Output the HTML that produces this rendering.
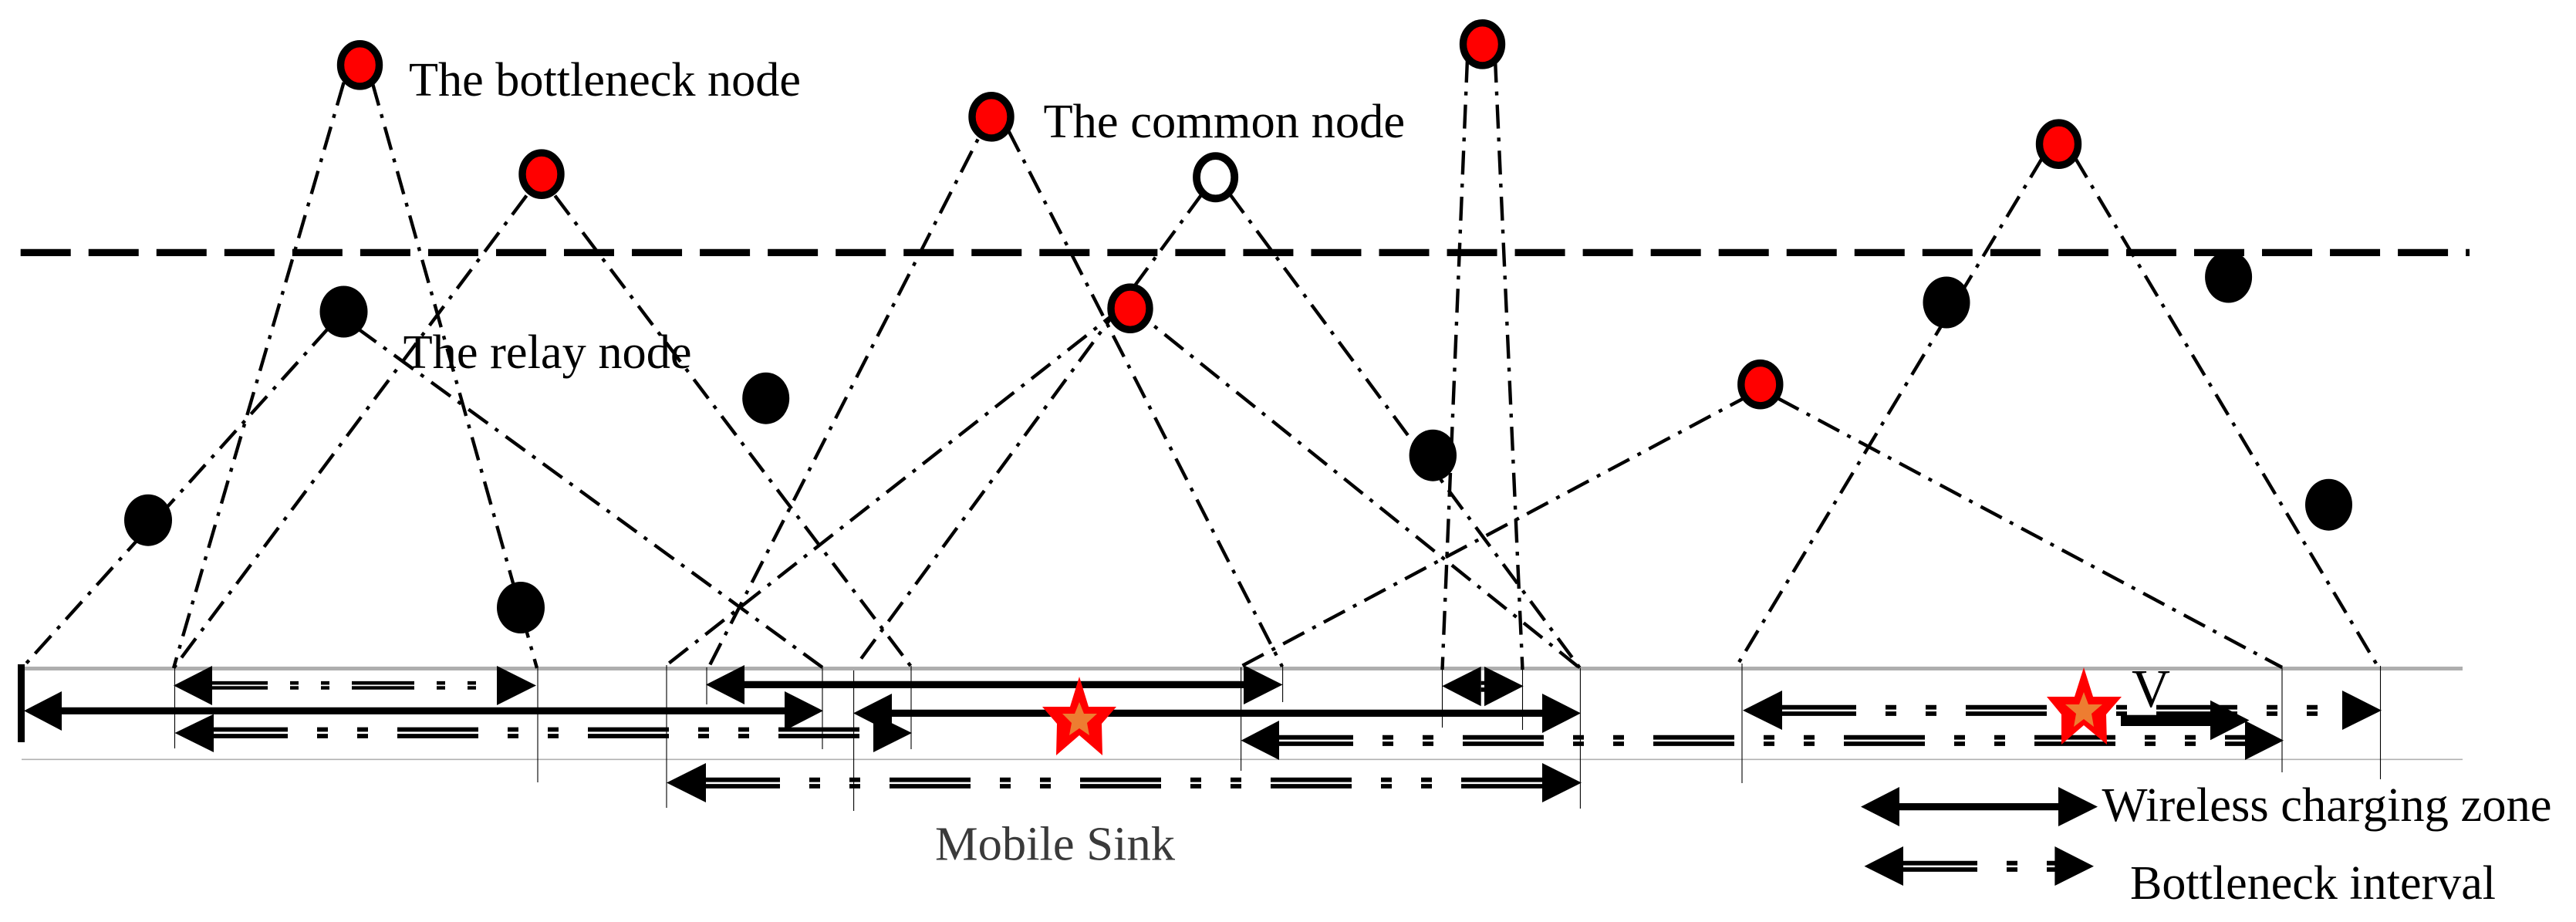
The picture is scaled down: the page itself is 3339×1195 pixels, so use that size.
<!DOCTYPE html>
<html>
<head>
<meta charset="utf-8">
<style>
html,body{margin:0;padding:0;background:#fff}
svg{display:block}
text{font-family:"Liberation Serif",serif;fill:#000}
.dd line{stroke:#000;stroke-width:4.4;stroke-dasharray:31 11.7 5 12}
.v line{stroke:#000;stroke-width:1.1}
.b1 line{stroke:#000;stroke-width:4.6;stroke-dasharray:81 29 11 29 11 29;stroke-dashoffset:9}
.b2 line{stroke:#000;stroke-width:5.8;stroke-dasharray:105 38 14 38 14 38;stroke-dashoffset:9}
.c line{stroke:#000;stroke-width:9.2}
.r{fill:#f00;stroke:#000;stroke-width:9.4}
.k{fill:#000}
</style>
</head>
<body>
<svg width="3339" height="1195" viewBox="0 0 3339 1195" xmlns="http://www.w3.org/2000/svg">
<rect width="3339" height="1195" fill="#fff"/>

<!-- zone rails -->
<line x1="28" y1="866.5" x2="3192" y2="866.5" stroke="#aeaeae" stroke-width="5"/>
<line x1="28" y1="984.3" x2="3192" y2="984.3" stroke="#b0b0b0" stroke-width="1.6"/>
<rect x="23" y="861" width="9" height="101" fill="#000"/>

<!-- horizontal dashed line -->
<line x1="26.7" y1="327.4" x2="3201" y2="327.4" stroke="#000" stroke-width="9.2" stroke-dasharray="65 23.04"/>

<!-- dash-dot links -->
<g class="dd">
<line x1="445.6" y1="106.9" x2="225" y2="866"/>
<line x1="482.6" y1="106.9" x2="696" y2="866"/>
<line x1="682.5" y1="253.5" x2="225" y2="866"/>
<line x1="719.3" y1="253.6" x2="1181" y2="864"/>
<line x1="426" y1="425" x2="32" y2="862"/>
<line x1="462.5" y1="425" x2="1066" y2="865"/>
<line x1="1287" y1="142.4" x2="918" y2="866"/>
<line x1="1307" y1="169" x2="1662" y2="864"/>
<line x1="1455.3" y1="398" x2="864" y2="862"/>
<line x1="1463" y1="396" x2="2048" y2="866"/>
<line x1="1558.3" y1="251" x2="1113" y2="858"/>
<line x1="1593.6" y1="251" x2="2048" y2="866"/>
<line x1="1902" y1="76" x2="1869.5" y2="868"/>
<line x1="1938" y1="76" x2="1973.5" y2="868"/>
<line x1="2270" y1="511" x2="1608" y2="864"/>
<line x1="2304" y1="516" x2="2958" y2="865"/>
<line x1="2648" y1="203.4" x2="2253" y2="860"/>
<line x1="2689" y1="203.4" x2="3080" y2="860"/>
</g>

<!-- thin verticals -->
<g class="v">
<line x1="226.5" y1="863" x2="226.5" y2="970"/>
<line x1="697" y1="866" x2="697" y2="1014"/>
<line x1="864" y1="862" x2="864" y2="1047"/>
<line x1="916" y1="865" x2="916" y2="913"/>
<line x1="1066" y1="865" x2="1066" y2="971"/>
<line x1="1106.6" y1="869" x2="1106.6" y2="1051"/>
<line x1="1181" y1="863" x2="1181" y2="971"/>
<line x1="1608.6" y1="865" x2="1608.6" y2="999"/>
<line x1="1662.6" y1="863" x2="1662.6" y2="910"/>
<line x1="1869.5" y1="866" x2="1869.5" y2="943"/>
<line x1="1973.5" y1="866" x2="1973.5" y2="946"/>
<line x1="2048.4" y1="866" x2="2048.4" y2="1048"/>
<line x1="2258" y1="860" x2="2258" y2="1015"/>
<line x1="2958" y1="865" x2="2958" y2="1001"/>
<line x1="3085.5" y1="863" x2="3085.5" y2="1010"/>
</g>

<!-- nodes -->
<g>
<ellipse class="r" cx="466.5" cy="84.3" rx="25" ry="27.6"/>
<ellipse class="r" cx="702" cy="225.7" rx="25" ry="27.6"/>
<ellipse class="r" cx="1285" cy="151.3" rx="25" ry="27.6"/>
<ellipse class="r" cx="1465" cy="399.7" rx="25" ry="27.6"/>
<ellipse class="r" cx="1921.5" cy="57.3" rx="25" ry="27.6"/>
<ellipse class="r" cx="2668.5" cy="186.7" rx="25" ry="27.6"/>
<ellipse class="r" cx="2281.8" cy="498.2" rx="25" ry="27.6"/>
<ellipse cx="1575.6" cy="229.7" rx="24.6" ry="27.6" fill="#fff" stroke="#000" stroke-width="9.8"/>
<ellipse class="k" cx="445.5" cy="404" rx="31" ry="33.5"/>
<ellipse class="k" cx="992.7" cy="516.2" rx="30.5" ry="33.5"/>
<ellipse class="k" cx="192" cy="674.2" rx="31" ry="33.5"/>
<ellipse class="k" cx="675" cy="787.5" rx="31" ry="33.5"/>
<ellipse class="k" cx="1857.3" cy="590.2" rx="30.7" ry="33.5"/>
<ellipse class="k" cx="2523" cy="392" rx="30.5" ry="33.5"/>
<ellipse class="k" cx="2888.6" cy="359" rx="30.5" ry="33.5"/>
<ellipse class="k" cx="3018.5" cy="654.2" rx="30.5" ry="33.5"/>
</g>

<!-- bottleneck intervals -->
<g class="b1">
<line x1="275" y1="885.2" x2="644" y2="885.2"/>
<line x1="275" y1="891.5" x2="644" y2="891.5"/>
</g>
<polygon class="k" points="225,888.5 275,863 275,914"/>
<polygon class="k" points="695,888.5 644,863 644,914"/>

<g class="b2">
<line x1="277" y1="945.5" x2="1132" y2="945.5"/>
<line x1="277" y1="954" x2="1132" y2="954"/>
</g>
<polygon class="k" points="226.5,950 277,925.5 277,975"/>
<polygon class="k" points="1182,950 1132,925.5 1132,975"/>

<g class="b2">
<line x1="915" y1="1010.7" x2="1999" y2="1010.7"/>
<line x1="915" y1="1019" x2="1999" y2="1019"/>
</g>
<polygon class="k" points="864,1014.5 915,989 915,1040"/>
<polygon class="k" points="2050,1014.5 1999,989 1999,1040"/>

<polygon class="k" points="1869.3,889.3 1919.7,864 1919.7,915.3"/>
<polygon class="k" points="1974.7,889.3 1924,864 1924,915.3"/>
<rect class="k" x="1919.7" y="882.7" width="4.3" height="5"/>
<rect class="k" x="1919.7" y="891" width="4.3" height="5.7"/>

<g class="b2">
<line x1="1658" y1="955.7" x2="2910" y2="955.7"/>
<line x1="1658" y1="964" x2="2910" y2="964"/>
</g>
<polygon class="k" points="1608.6,959.7 1658,934 1658,985"/>
<polygon class="k" points="2960,959.7 2910,934 2910,985"/>

<g class="b2">
<line x1="2310" y1="916.7" x2="3036" y2="916.7"/>
<line x1="2310" y1="925" x2="3036" y2="925"/>
</g>
<polygon class="k" points="2259,920.7 2310,895 2310,946"/>
<polygon class="k" points="3087,920.7 3036,895 3036,946"/>

<!-- charging zones -->
<g class="c">
<line x1="80" y1="921.3" x2="1017" y2="921.3"/>
<line x1="965" y1="887.4" x2="1612" y2="887.4"/>
<line x1="1156" y1="924.4" x2="1999" y2="924.4"/>
<line x1="2462" y1="1045.6" x2="2668" y2="1045.6"/>
</g>
<polygon class="k" points="31,921.3 80,896 80,947"/>
<polygon class="k" points="1067,921.3 1017,896 1017,947"/>
<polygon class="k" points="915,887.4 965,862 965,913"/>
<polygon class="k" points="1662.6,887.4 1612,862 1612,913"/>
<polygon class="k" points="1106,924.4 1156,899 1156,950"/>
<polygon class="k" points="2049,924.4 1999,899 1999,950"/>

<!-- legend -->
<polygon class="k" points="2412,1045.6 2462,1020 2462,1071"/>
<polygon class="k" points="2719,1045.6 2668,1020 2668,1071"/>
<g class="b2">
<line x1="2467" y1="1118.7" x2="2664" y2="1118.7"/>
<line x1="2467" y1="1127" x2="2664" y2="1127"/>
</g>
<polygon class="k" points="2416.5,1122.7 2467,1097 2467,1148"/>
<polygon class="k" points="2714,1122.7 2663.4,1097 2663.4,1148"/>

<!-- V arrow -->
<rect x="2749" y="926.7" width="118" height="14.3" fill="#000"/>
<polygon class="k" points="2915.5,933.5 2865,907.7 2865,959.3"/>

<!-- stars -->
<polygon fill="#f00" points="1399,877 1411,916 1447,916 1428,938 1429,979 1399,953 1369,979 1370,938 1351,916 1387,916"/>
<polygon fill="#ed7d31" points="1399,910 1405,925 1422,925 1409,937 1412,953 1399,944 1386,953 1389,937 1377,925 1393,925"/>
<polygon fill="#f00" points="2701,865 2713,903 2750,903 2730,926 2731,965 2701,940 2672,965 2672,926 2653,903 2689,903"/>
<polygon fill="#ed7d31" points="2701,897 2707,913 2725,913 2711,925 2714,942 2701,932 2688,942 2691,925 2677,913 2695,913"/>

<!-- labels -->
<text x="530" y="124" font-size="62" textLength="508" lengthAdjust="spacingAndGlyphs">The bottleneck node</text>
<text x="1352.5" y="178" font-size="62" textLength="468.6" lengthAdjust="spacingAndGlyphs">The common node</text>
<text x="522.6" y="477" font-size="62" textLength="374" lengthAdjust="spacingAndGlyphs">The relay node</text>
<text x="1212" y="1114.3" font-size="62" textLength="311" lengthAdjust="spacingAndGlyphs" style="fill:#3a3a3a">Mobile Sink</text>
<text x="2763" y="916" font-size="70" textLength="50" lengthAdjust="spacingAndGlyphs">V</text>
<text x="2724.5" y="1064" font-size="62" textLength="583" lengthAdjust="spacingAndGlyphs">Wireless charging zone</text>
<text x="2761" y="1165" font-size="62" textLength="474" lengthAdjust="spacingAndGlyphs">Bottleneck interval</text>
</svg>
</body>
</html>
